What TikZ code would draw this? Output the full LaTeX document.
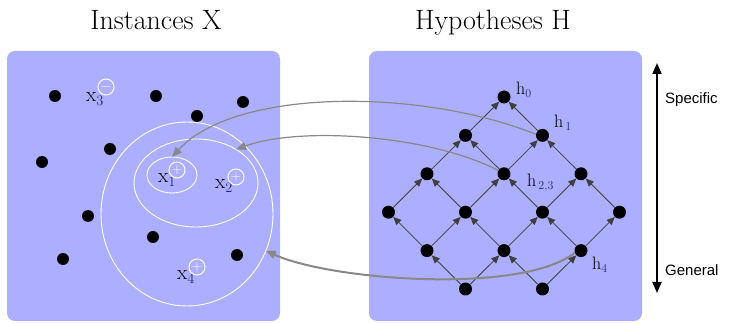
\documentclass[tikz,border=0pt]{standalone}
\usepackage{fontspec}
\newfontfamily\labelfont{Liberation Sans}
\usetikzlibrary{positioning,shapes.geometric,arrows.meta}
\definecolor{panelblue}{RGB}{172,174,255}
\definecolor{linkgray}{RGB}{136,136,136}
\definecolor{subblue}{RGB}{40,40,110}
\newcommand{\idx}[1]{_{\textcolor{subblue}{#1}}}

\tikzset{
  panel/.style={fill=panelblue, rounded corners=8pt},
  dot/.style={circle, fill=black, inner sep=0pt, minimum size=12pt},
  hnode/.style={circle, fill=black, inner sep=0pt, minimum size=13pt},
  sign/.style={circle, draw=white, line width=1pt, inner sep=0pt, minimum size=16pt,
    text=white, font=\fontsize{14}{14}\selectfont},
  region/.style={ellipse, draw=white, line width=0.9pt, inner sep=0pt, outer sep=0pt},
  edge/.style={draw=black!75, line width=0.8pt, -{Triangle[length=8pt,width=7pt]}},
  link/.style={draw=linkgray, line width=1.2pt, -{Triangle[length=10pt,width=8pt]}},
  xname/.style={font=\fontsize{21}{24}\selectfont},
  hname/.style={font=\fontsize{18}{21}\selectfont, anchor=base west, inner sep=0pt},
  title/.style={font=\fontsize{28}{32}\selectfont, anchor=base},
  side/.style={font=\labelfont\fontsize{15}{18}\selectfont, anchor=west, inner sep=0pt},
  scalebar/.style={line width=1.8pt,
    {Triangle[length=11pt,width=9pt]}-{Triangle[length=11pt,width=9pt]}}
}

\begin{document}
\begin{tikzpicture}[x=1pt,y=-1pt]
    \useasboundingbox (0,0) rectangle (737,323);

    % Panels and titles
    \fill[panel] (7,51) rectangle (280,321);
    \fill[panel] (369,51) rectangle (642,321);
    \node[title] (tinst) at (156,30) {Instances X};
    \node[title] (thyp) at (493,30) {Hypotheses H};

    % Instance space
    \node[region, minimum width=50pt, minimum height=36pt] (e1) at (172,175) {};
    \node[region, minimum width=124pt, minimum height=88pt] (e2) at (196,183) {};
    \node[region, minimum width=172pt, minimum height=184pt] (e3) at (187,214) {};
    \foreach \x/\y [count=\k] in {55/96, 156/96, 243/102, 197/116, 110/149,
                                   42/162, 88/216, 153/237, 63/259, 237/255} {
        \node[dot] (d\k) at (\x,\y) {};
    }
    \node[xname] (x3) at (95,99) {$\mathrm{x}\idx{3}$};
    \node[xname] (x1) at (167,180) {$\mathrm{x}\idx{1}$};
    \node[xname] (x2) at (224,186) {$\mathrm{x}\idx{2}$};
    \node[xname] (x4) at (186,277) {$\mathrm{x}\idx{4}$};
    \node[sign] (s3) at (106,87) {$-$};
    \node[sign] (s1) at (177,170) {$+$};
    \node[sign] (s2) at (236,177) {$+$};
    \node[sign] (s4) at (197,267) {$+$};

    % Hypothesis lattice
    \foreach \j/\c in {0/3, 1/2, 1/4, 2/1, 2/3, 2/5, 3/0, 3/2, 3/4, 3/6,
                       4/1, 4/3, 4/5, 5/2, 5/4} {
        \node[hnode] (v\j\c) at ({504+38.5*(\c-3)},{97+38.4*\j}) {};
    }
    \foreach \a/\b in {12/03, 14/03, 21/12, 23/12, 23/14, 25/14,
                       30/21, 32/21, 32/23, 34/23, 34/25, 36/25,
                       41/30, 41/32, 43/32, 43/34, 45/34, 45/36,
                       52/41, 52/43, 54/43, 54/45} {
        \draw[edge] (v\a) -- (v\b);
    }
    \node[hname] (h0) at (516,95) {h$\idx{0}$};
    \node[hname] (h1) at (554,128) {h$\idx{\,1}$};
    \node[hname] (h23) at (527,187) {h$\idx{\,2,3}$};
    \node[hname] (h4) at (592,270) {h$\idx{4}$};

    % Hypotheses back to their instance sets
    \draw[link] (v14.170) .. controls (420,88) and (235,88) .. (e1.north);
    \draw[link] (v23.150) .. controls (430,135) and (300,126) .. (e2.40);
    \draw[link, line width=2pt] (v45.200) .. controls (520,295) and (330,280) .. (e3.-25);

    % Specific to general
    \coordinate (spec) at (657,63);
    \coordinate (gen) at (657,293);
    \draw[scalebar] (spec) -- (gen);
    \node[side] (specific) at (665,100) {Specific};
    \node[side] (general) at (665,270) {General};
\end{tikzpicture}
\end{document}
